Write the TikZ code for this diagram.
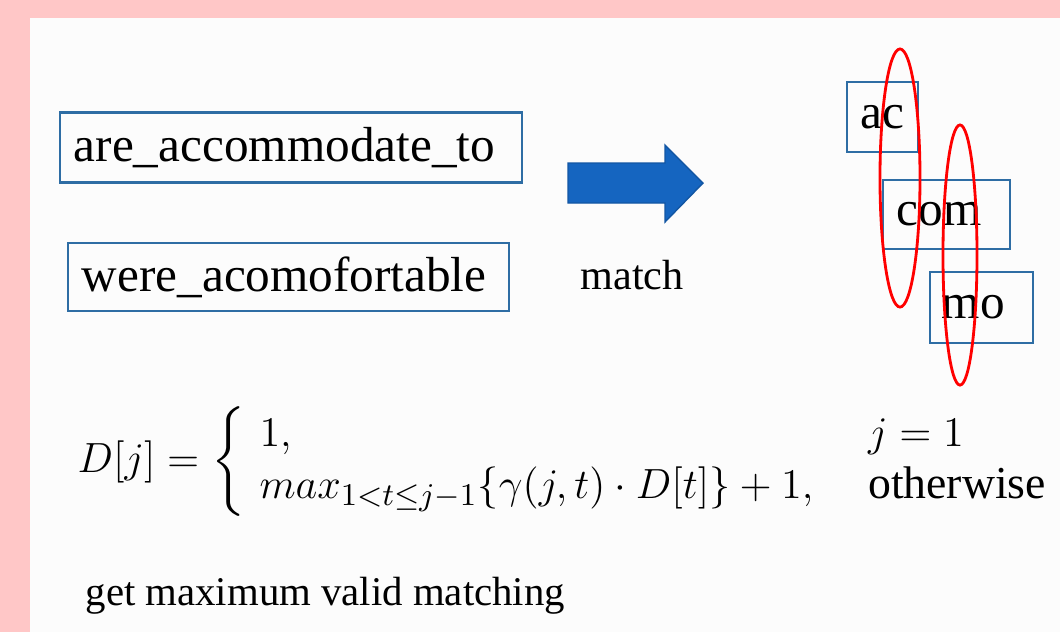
\documentclass[tikz,border=0pt]{standalone}
\usepackage{amsmath,amssymb}
\usepackage{fontspec}
\setmainfont{Liberation Serif}
\usepackage{xcolor}
\usepackage{tikz}
\usetikzlibrary{positioning,shapes.geometric,calc}

\definecolor{pinkbg}{RGB}{255,199,199}
\definecolor{panelbg}{RGB}{252,252,252}
\definecolor{boxblue}{RGB}{46,109,164}
\definecolor{arrowblue}{RGB}{21,101,192}

\begin{document}
\begin{tikzpicture}[x=0.01cm, y=-0.01cm,
  word/.style={rectangle, draw=boxblue, line width=0.7pt, text width=#1, align=left, inner xsep=0.14cm, minimum height=0.70cm, font=\fontsize{14}{16}\selectfont},
  piece/.style={rectangle, draw=boxblue, line width=0.7pt, text width=#1, align=left, inner xsep=0.14cm, minimum height=0.70cm, font=\fontsize{14}{16}\selectfont},
  oval/.style={ellipse, draw=red, line width=0.8pt, inner sep=0pt},
  plain/.style={inner sep=0pt, anchor=base west}]

  % Background and panel
  \fill [pinkbg] (0,0) rectangle (1060,632);
  \fill [panelbg] (30,18) rectangle (1060,632);
  \useasboundingbox (0,0) rectangle (1060,632);

  % Left column: the two words
  \node [word=4.34cm] (w1) at (291,147.5) {are\_accommodate\_to};
  \node [word=4.13cm, minimum height=0.68cm] (w2) at (288.5,277) {were\_acomofortable};

  % Block arrow with its label
  \coordinate (a1) at (568,163);
  \coordinate (a2) at (665,163);
  \coordinate (a3) at (665,145);
  \coordinate (tip) at (703,183);
  \coordinate (a5) at (665,222);
  \coordinate (a6) at (665,203);
  \coordinate (a7) at (568,203);
  \filldraw [fill=arrowblue, draw=arrowblue!85!black, line width=0.4pt]
    (a1) -- (a2) -- (a3) -- (tip) -- (a5) -- (a6) -- (a7) -- cycle;
  \node [font=\fontsize{12}{14}\selectfont] (match) at (632,275) {match};

  % Right column: the pieces
  \node [piece=0.43cm] (ac) at (882.5,117) {ac};
  \node [piece=0.99cm, minimum height=0.69cm] (com) at (946.5,214.5) {com};
  \node [piece=0.79cm, minimum height=0.71cm, inner xsep=0.12cm] (mo) at (981.5,307.5) {mo};

  % Overlap ovals
  \node [oval, minimum width=0.40cm, minimum height=2.58cm] (ov1) at (900,178) {};
  \node [oval, minimum width=0.34cm, minimum height=2.60cm] (ov2) at (960,255) {};

  % Recurrence
  \node [anchor=west, inner sep=0pt, font=\fontsize{13}{15}\selectfont] (rec) at (77,462)
    {$D[j]=\left\{\,\begin{array}{@{\,}l@{\hspace{1.2em}}l}1, & j=1\\ max_{1<t\le j-1}\{\gamma(j,t)\cdot D[t]\}+1, & \text{otherwise}\end{array}\right.$};

  % Caption
  \node [plain, font=\fontsize{11.6}{14}\selectfont] (goal) at (85,605) {get maximum valid matching};
\end{tikzpicture}
\end{document}
